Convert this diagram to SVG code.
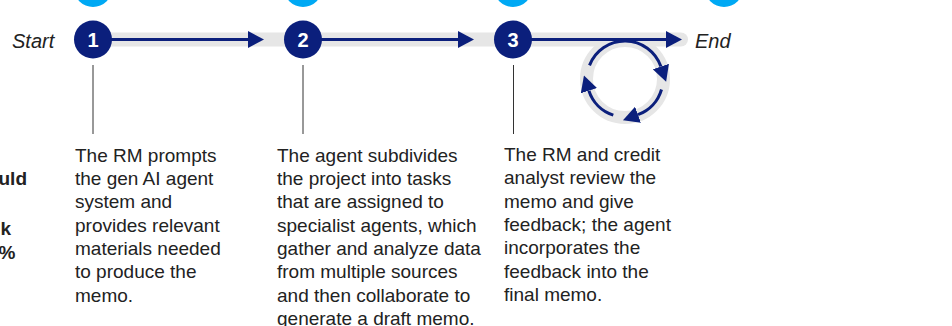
<svg xmlns="http://www.w3.org/2000/svg" width="952" height="326" viewBox="0 0 952 326">
<style>
.body{font-family:"Liberation Sans",Arial,sans-serif;font-size:19px;fill:#222222}
.bold{font-family:"Liberation Sans",Arial,sans-serif;font-size:19px;font-weight:bold;fill:#222222}
.lbl{font-family:"Liberation Sans",Arial,sans-serif;font-size:20px;font-style:italic;fill:#222222}
.num{font-family:"Liberation Sans",Arial,sans-serif;font-size:20px;font-weight:bold;fill:#ffffff;text-anchor:middle}
.step{fill:#0b1f7c}
.top{fill:#00a9f4}
.flow{stroke:#0b1f7c;stroke-width:3;fill:none}
.tick{stroke:#333333;stroke-width:1}
</style>
<defs>
<marker id="ah" markerUnits="userSpaceOnUse" markerWidth="16" markerHeight="17" refX="0" refY="8.5" orient="auto" viewBox="0 0 16 17">
<path d="M0,0 L16,8.5 L0,17 Z" fill="#0b1f7c"/>
</marker>
</defs>
<g id="background">
<line x1="93" y1="39.5" x2="681" y2="39.5" stroke="#e6e6e6" stroke-width="14" stroke-linecap="round"/>
<circle cx="625" cy="79" r="38.5" fill="none" stroke="#e6e6e6" stroke-width="13"/>
</g>
<g id="top-circles">
<circle class="top" cx="93" cy="-12" r="19"/>
<circle class="top" cx="303" cy="-12" r="19"/>
<circle class="top" cx="513" cy="-12" r="19"/>
<circle class="top" cx="724" cy="-12" r="19"/>
</g>
<g id="connectors">
<line class="flow" x1="110" y1="39.5" x2="248" y2="39.5" marker-end="url(#ah)"/>
<line class="flow" x1="320" y1="39.5" x2="458" y2="39.5" marker-end="url(#ah)"/>
<line class="flow" x1="530" y1="39.5" x2="666" y2="39.5" marker-end="url(#ah)"/>
<path class="flow" d="M589.5,65.4 A38,38 0 0 1 660.9,66.6" marker-end="url(#ah)"/>
<path class="flow" d="M661.5,89.5 A38,38 0 0 1 638,114.7" marker-end="url(#ah)"/>
<path class="flow" d="M613.3,115.1 A38,38 0 0 1 588.9,90.7" marker-end="url(#ah)"/>
<line class="tick" x1="93" y1="65" x2="93" y2="134"/>
<line class="tick" x1="303" y1="65" x2="303" y2="134"/>
<line class="tick" x1="513.5" y1="65" x2="513.5" y2="134"/>
</g>
<g id="start"><text class="lbl" x="12" y="48">Start</text></g>
<g id="end"><text class="lbl" x="695" y="48">End</text></g>
<g id="step1">
<circle class="step" cx="93" cy="39.5" r="19"/>
<text class="num" x="93" y="46.5">1</text>
<text class="body" x="75" y="161.7">The RM prompts</text>
<text class="body" x="75" y="185">the gen AI agent</text>
<text class="body" x="75" y="208.3">system and</text>
<text class="body" x="75" y="231.7">provides relevant</text>
<text class="body" x="75" y="255">materials needed</text>
<text class="body" x="75" y="278.3">to produce the</text>
<text class="body" x="75" y="301.7">memo.</text>
</g>
<g id="step2">
<circle class="step" cx="303" cy="39.5" r="19"/>
<text class="num" x="303" y="46.5">2</text>
<text class="body" x="277" y="161.7">The agent subdivides</text>
<text class="body" x="277" y="185">the project into tasks</text>
<text class="body" x="277" y="208.3">that are assigned to</text>
<text class="body" x="277" y="231.7">specialist agents, which</text>
<text class="body" x="277" y="255">gather and analyze data</text>
<text class="body" x="277" y="278.3">from multiple sources</text>
<text class="body" x="277" y="301.7">and then collaborate to</text>
<text class="body" x="277" y="325">generate a draft memo.</text>
</g>
<g id="step3">
<circle class="step" cx="513" cy="39.5" r="19"/>
<text class="num" x="513" y="46.5">3</text>
<text class="body" x="504" y="161">The RM and credit</text>
<text class="body" x="504" y="184.3">analyst review the</text>
<text class="body" x="504" y="207.7">memo and give</text>
<text class="body" x="504" y="231">feedback; the agent</text>
<text class="body" x="504" y="254.3">incorporates the</text>
<text class="body" x="504" y="277.7">feedback into the</text>
<text class="body" x="504" y="301">final memo.</text>
</g>
<g id="left-text">
<text class="bold" x="27" y="185" text-anchor="end">uld</text>
<text class="bold" x="11" y="235" text-anchor="end">k</text>
<text class="bold" x="15.5" y="259" text-anchor="end">%</text>
</g>
</svg>
